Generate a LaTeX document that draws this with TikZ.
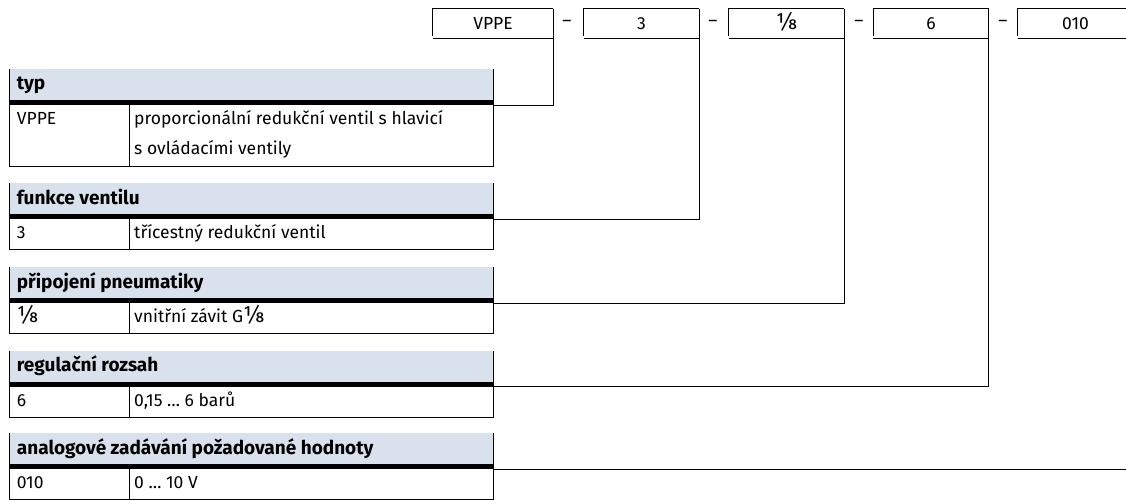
\documentclass[tikz,border=0pt]{standalone}
\usepackage{fontspec}
\setmainfont{Fira Sans}
\usetikzlibrary{positioning}
\definecolor{hdrblue}{RGB}{217,226,236}
\newcommand{\oneeighth}{{\fontsize{23}{30}\selectfont ⅛}}
\tikzset{
  font=\fontsize{17.5}{30}\selectfont,
  % thin rules
  rule/.style={line width=0.9pt},
  % code field on top
  codebox/.style={minimum width=115pt, minimum height=29.5pt, inner sep=0pt,
    text height=12pt, text depth=0pt},
  % separating dash
  dashsign/.style={inner sep=0pt},
  % table texts
  hdrtext/.style={anchor=base west, inner sep=0pt, font=\fontsize{19}{30}\selectfont\bfseries},
  celltext/.style={anchor=base west, inner sep=0pt, align=left},
}

\begin{document}
\begin{tikzpicture}[x=1pt, y=-1pt]
  \useasboundingbox (0,0) rectangle (1126,500);

  % order code
  \node[codebox, minimum width=120pt] (c1) at (493,23.75) {VPPE};
  \node[codebox] (c2) at (641.5,23.75) {3};
  \node[codebox] (c3) at (786.5,23.75) {\oneeighth};
  \node[codebox] (c4) at (931,23.75) {6};
  \node[codebox] (c5) at (1075.5,23.75) {010};
  \node[dashsign] (m1) at (567,23.75) {–};
  \node[dashsign] (m2) at (713,23.75) {–};
  \node[dashsign] (m3) at (859,23.75) {–};
  \node[dashsign] (m4) at (1003,23.75) {–};

  % tables: top edge / body height / index
  \foreach \top/\bh/\n in {69/61.5/1, 183/30.5/2, 267/30.5/3, 350.5/30.5/4, 433/30.5/5} {
    \fill[hdrblue] (9,\top) rectangle (493.3,\top+31);
    \fill (9,\top+31) rectangle (493.3,\top+36);
    \draw[rule] (9,\top) -- (9,\top+36+\bh) -- (493.3,\top+36+\bh) -- (493.3,\top);
    \draw[rule] (129,\top+36) -- (129,\top+36+\bh);
    \coordinate (r\n) at (493.3,\top+36);
  }

  \node[hdrtext] (h1) at (16.7,90) {typ};
  \node[celltext] (k1) at (16.7,124.5) {VPPE};
  \node[celltext] (v1) at (134,154.5) {proporcionální redukční ventil s hlavicí\\s ovládacími ventily};

  \node[hdrtext] (h2) at (16.7,204) {funkce ventilu};
  \node[celltext] (k2) at (16.7,238.5) {3};
  \node[celltext] (v2) at (134,238.5) {třícestný redukční ventil};

  \node[hdrtext] (h3) at (16.7,288) {připojení pneumatiky};
  \node[celltext] (k3) at (16.7,322.5) {\oneeighth};
  \node[celltext] (v3) at (134,322.5) {vnitřní závit G\oneeighth};

  \node[hdrtext] (h4) at (16.7,371.5) {regulační rozsah};
  \node[celltext] (k4) at (16.7,406) {6};
  \node[celltext] (v4) at (134,406) {0,15 … 6 barů};

  \node[hdrtext] (h5) at (16.7,454) {analogové zadávání požadované hodnoty};
  \node[celltext] (k5) at (16.7,488.5) {010};
  \node[celltext] (v5) at (134,488.5) {0 … 10 V};

  % boxes and connectors
  \foreach \c in {1,...,5} {
    \draw[rule] (c\c.south west) ++(0,-2.5) -- (c\c.north west) -- (c\c.north east);
    \draw[rule] (c\c.south west) -- (c\c.south east);
    \draw[rule] (c\c.north east) |- (r\c);
  }
\end{tikzpicture}
\end{document}
